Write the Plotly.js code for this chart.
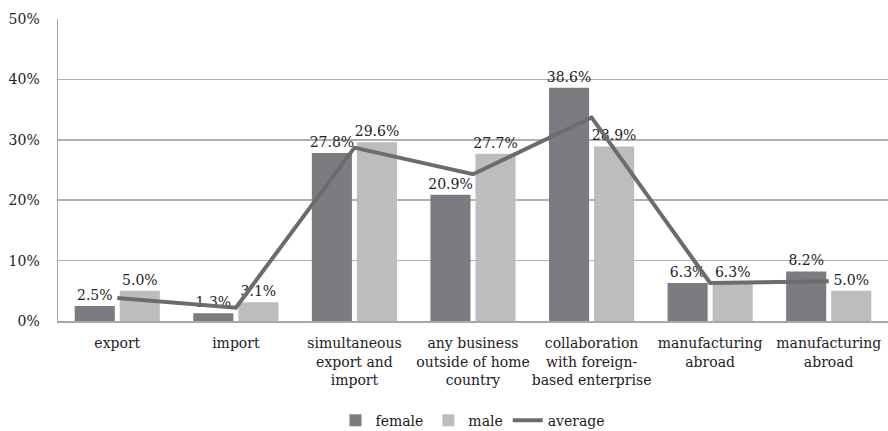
<!DOCTYPE html>
<html>
<head>
<meta charset="utf-8">
<script src="https://cdn.plot.ly/plotly-3.0.1.min.js"></script>
<style>html,body{margin:0;padding:0;background:#fff;}#chart{width:888px;height:431px;}</style>
</head>
<body>
<div id="chart"></div>
<script>
const categories = ["export", "import", "simultaneous<br>export and<br>import", "any business<br>outside of home<br>country", "collaboration<br>with foreign-<br>based enterprise", "manufacturing<br>abroad", "manufacturing<br>abroad"];
const female = [2.5, 1.3, 27.8, 20.9, 38.6, 6.3, 8.2];
const male = [5.0, 3.1, 29.6, 27.7, 28.9, 6.3, 5.0];
const average = [3.8, 2.2, 28.7, 24.3, 33.7, 6.3, 6.6];
const yTicks = [0, 10, 20, 30, 40, 50];

const idx = categories.map((c, i) => i);
const font = {family: "DejaVu Serif", size: 14, color: "#222"};

const traces = [
  {type: "bar", name: "female", x: idx, y: female, marker: {color: "#7c7c80"},
   text: female.map(v => v.toFixed(1) + "%"), textposition: "outside", cliponaxis: false,
   constraintext: "none", textfont: font, hoverinfo: "none"},
  {type: "bar", name: "male", x: idx, y: male, marker: {color: "#bdbdc0"},
   text: male.map(v => v.toFixed(1) + "%"), textposition: "outside", cliponaxis: false,
   constraintext: "none", textfont: font, hoverinfo: "none"},
  {type: "scatter", mode: "lines", name: "average", x: idx, y: average,
   line: {color: "#6c6c6f", width: 4}, hoverinfo: "none"}
];

const layout = {
  width: 888, height: 431,
  margin: {l: 58, r: 0, t: 19, b: 110, autoexpand: false},
  paper_bgcolor: "#fff", plot_bgcolor: "#fff",
  font: font,
  barmode: "group", bargap: 0.24, bargroupgap: 0.11,
  showlegend: true,
  legend: {orientation: "h", x: 0.5, xanchor: "center", y: -0.33, yanchor: "middle",
           font: font, traceorder: "normal", itemwidth: 30},
  xaxis: {range: [-0.5, 6.5], tickmode: "array", tickvals: idx, ticktext: categories, tickangle: 0,
          showgrid: false, zeroline: false, showline: true, linecolor: "#a8a8a8", linewidth: 1.5,
          ticks: "", ticklabelstandoff: 9, tickfont: font, automargin: false, fixedrange: true},
  yaxis: {range: [0, 50], tickmode: "array", tickvals: yTicks, ticktext: yTicks.map(v => v + "%"),
          showgrid: true, gridcolor: "#b0b0b0", gridwidth: 1.5, zeroline: false,
          showline: true, linecolor: "#a8a8a8", linewidth: 1.5, ticks: "", ticklabelstandoff: 14,
          tickfont: font, automargin: false, fixedrange: true}
};

Plotly.newPlot("chart", traces, layout, {displayModeBar: false, staticPlot: true});
</script>
</body>
</html>
